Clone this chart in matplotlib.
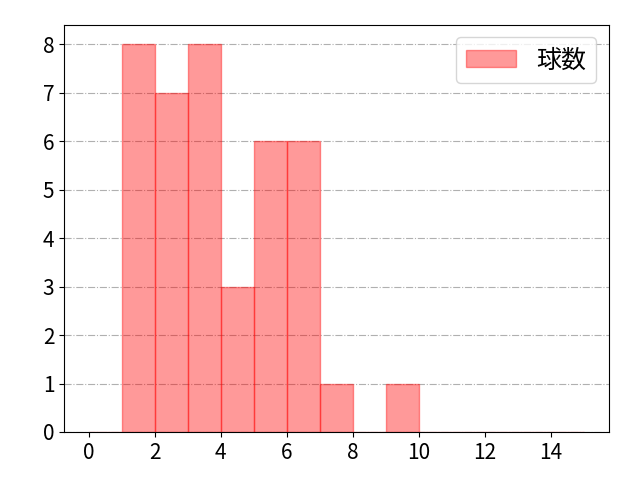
import matplotlib
matplotlib.use("Agg")
import matplotlib.pyplot as plt
import numpy as np

plt.rcParams['font.family'] = ['Noto Sans CJK JP', 'DejaVu Sans']

bin_edges = list(range(0, 16))
counts = [0, 8, 7, 8, 3, 6, 6, 1, 0, 1, 0, 0, 0, 0, 0]
label = "球数"

fig, ax = plt.subplots(figsize=(6.4, 4.8), dpi=100)
fig.subplots_adjust(left=0.1, right=0.951, bottom=0.1, top=0.948)
ax.hist(bin_edges[:-1], bins=bin_edges, weights=counts, color='red', alpha=0.4,
        edgecolor='red', linewidth=1, label=label)
ax.grid(axis='y', linestyle='-.', color='#b0b0b0', linewidth=0.8)
ax.set_axisbelow(True)
ax.set_xticks(range(0, 16, 2))
ax.tick_params(labelsize=15)
ax.legend(fontsize=18, loc='upper right')
fig.savefig("out.png", dpi=100)
